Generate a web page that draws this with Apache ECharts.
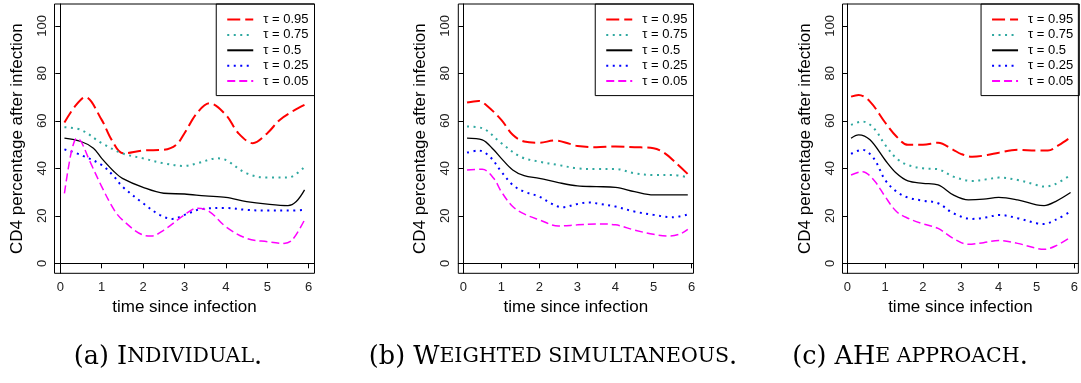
<!DOCTYPE html>
<html><head><meta charset="utf-8">
<script src="https://cdn.jsdelivr.net/npm/echarts@6/dist/echarts.min.js"></script>
<style>html,body{margin:0;padding:0;background:#fff}#c{width:1081px;height:383px}</style>
</head><body><div id="c"></div>
<script>
// ---- data ----
const xTicks = [0, 1, 2, 3, 4, 5, 6];
const yTicks = [0, 20, 40, 60, 80, 100];
const tauLabels = ['τ = 0.95', 'τ = 0.75', 'τ = 0.5', 'τ = 0.25', 'τ = 0.05'];
const xTitle = 'time since infection';
const yTitle = 'CD4 percentage after infection';

// Panel (a) Individual
const a_q95 = [[0.1,59.3],[0.35,66],[0.6,70],[1,60.4],[1.24,52],[1.52,46.3],[2,47.5],[2.5,47.8],[2.8,49.9],[3,54.8],[3.3,63.2],[3.6,67.4],[4,62.5],[4.3,54.8],[4.65,50.6],[5,54.8],[5.3,60.4],[5.6,63.9],[5.9,66.7]];
const a_q75 = [[0.1,57.3],[0.5,56.2],[1,50.6],[1.5,46.3],[2,44.2],[2.5,42.1],[3,41],[3.3,42.1],[3.8,44.2],[4,43.5],[4.5,37.9],[5,36.1],[5.5,36.1],[5.9,40.7]];
const a_q50 = [[0.1,52.7],[0.5,51.3],[0.8,48.5],[1,44.2],[1.3,38.6],[1.5,35.8],[2,32],[2.5,29.5],[3,29.2],[3.5,28.4],[4,27.8],[4.5,26],[5,24.9],[5.5,24.3],[5.7,26],[5.9,30.9]];
const a_q25 = [[0.1,48],[0.5,45.6],[1,41.4],[1.3,36.5],[1.5,32.3],[2,25.3],[2.4,20.4],[2.7,18.7],[3,20.4],[3.4,22.8],[4,23.3],[4.5,22.5],[5,22.2],[5.5,22.2],[5.9,22.5]];
const a_q05 = [[0.1,29.5],[0.2,40.7],[0.3,49.2],[0.4,52.7],[0.5,51.3],[0.7,43.5],[1,32.3],[1.3,22.5],[1.5,18.3],[2,11.9],[2.2,11.5],[2.5,14],[3,20.4],[3.3,23.2],[3.6,21.8],[4,15.4],[4.5,10.5],[5,9.1],[5.4,8.4],[5.6,9.8],[5.9,18.3]];

// Panel (b) Weighted simultaneous
const b_q95 = [[0.1,67.7],[0.4,68.4],[0.6,66.7],[1,60.4],[1.3,54.1],[1.6,51.3],[2,50.8],[2.4,51.7],[2.8,50.3],[3,49.4],[3.5,48.9],[4,49.2],[4.5,48.9],[5,48.5],[5.3,46.3],[5.6,42.1],[5.9,37.6]];
const b_q75 = [[0.1,57.6],[0.5,56.9],[1,50.6],[1.5,44.9],[2,42.8],[2.5,41.4],[3,40],[3.5,39.7],[4,39.7],[4.5,37.9],[5,37.2],[5.5,37.2],[5.9,36.2]];
const b_q50 = [[0.1,52.7],[0.5,52],[0.8,47.8],[1,44.2],[1.3,39.3],[1.6,36.9],[2,35.8],[2.5,34],[3,32.6],[3.5,32.3],[4,32],[4.5,30.2],[5,28.8],[5.5,28.8],[5.9,28.8]];
const b_q25 = [[0.1,46.6],[0.4,47.5],[0.7,44.9],[1,38.6],[1.3,33],[1.6,30.2],[2,28.1],[2.3,25.3],[2.6,23.6],[3,25],[3.3,25.6],[3.6,25],[4,23.9],[4.5,21.8],[5,20.4],[5.5,19.4],[5.9,20.6]];
const b_q05 = [[0.1,39.3],[0.5,39.6],[0.8,35.8],[1,30.2],[1.3,23.9],[1.6,20.8],[2,18.3],[2.5,15.7],[3,16.2],[3.5,16.6],[4,16.2],[4.5,14],[5,12.2],[5.4,11.5],[5.7,12.4],[5.9,14.3]];

// Panel (c) AHe approach
const c_q95 = [[0.1,70.2],[0.3,70.9],[0.6,68.1],[1,59.3],[1.3,53.4],[1.6,49.9],[2,49.9],[2.4,50.8],[2.8,47.8],[3,46.1],[3.3,44.9],[3.7,45.6],[4,46.6],[4.5,47.8],[5,47.5],[5.3,47.5],[5.6,49.9],[5.9,53.1]];
const c_q75 = [[0.1,58.3],[0.4,59.7],[0.7,56.9],[1,49.9],[1.3,44.2],[1.6,41.4],[2,40],[2.4,39.6],[2.8,36.5],[3.3,34.7],[3.7,35.4],[4,36.1],[4.5,35.1],[5,33],[5.2,32.3],[5.5,33.4],[5.9,37.2]];
const c_q50 = [[0.1,52.7],[0.3,54.1],[0.6,52],[1,43.5],[1.3,37.9],[1.6,34.7],[2,33.7],[2.4,33],[2.8,28.8],[3.2,26.7],[3.6,27],[4,27.8],[4.5,26.7],[5,24.6],[5.2,24.3],[5.5,26],[5.9,29.8]];
const c_q25 = [[0.1,46.1],[0.4,47.8],[0.7,44.2],[1,35.1],[1.3,30.2],[1.6,27.7],[2,26.4],[2.4,25.3],[2.8,21.1],[3.3,18.7],[3.7,19.4],[4,20.4],[4.5,19],[5,16.9],[5.2,16.6],[5.5,18.3],[5.9,21.8]];
const c_q05 = [[0.1,37.2],[0.4,38.6],[0.7,35.1],[1,28.1],[1.3,21.8],[1.6,19],[2,16.6],[2.4,14.7],[2.8,10.5],[3.2,8],[3.6,8.7],[4,9.6],[4.5,8.4],[5,6.3],[5.2,5.9],[5.5,7.3],[5.9,11]];

const captions = [
  ['(a) I', 'NDIVIDUAL', '.'],
  ['(b) W', 'EIGHTED SIMULTANEOUS', '.'],
  ['(c) AH', 'E APPROACH', '.']
];

// ---- layout / styles ----
const panelsData = [
  [a_q95, a_q75, a_q50, a_q25, a_q05],
  [b_q95, b_q75, b_q50, b_q25, b_q05],
  [c_q95, c_q75, c_q50, c_q25, c_q05]
];
const layout = [
  {left: 54.5, width: 260, xmin: -0.14, xmax: 6.14, capX: 168},
  {left: 458.3, width: 235.2, xmin: -0.13, xmax: 6.05, capX: 553},
  {left: 842.5, width: 236.8, xmin: -0.126, xmax: 6.105, capX: 910}
];
const gridTop = 4, gridH = 269.3;
const styles = [
  {color: '#FF0000', width: 2, type: [13, 5]},
  {color: '#2FA8A0', width: 2, type: [2, 4.5]},
  {color: '#000000', width: 1.3, type: 'solid'},
  {color: '#0000FF', width: 2, type: [2, 4.5]},
  {color: '#FF00FF', width: 1.5, type: [8, 4]}
];
const sans = 'Liberation Sans, Arial, Helvetica, sans-serif';

const grid = [], xAxis = [], yAxis = [], legend = [], series = [], graphic = [];
layout.forEach((L, i) => {
  grid.push({left: L.left, top: gridTop, width: L.width, height: gridH, show: true, borderColor: '#000', borderWidth: 1, containLabel: false});
  xAxis.push({
    type: 'value', gridIndex: i, min: L.xmin, max: L.xmax,
    name: xTitle, nameLocation: 'middle', nameGap: 24,
    nameTextStyle: {fontFamily: sans, fontSize: 17, color: '#000'},
    axisLine: {show: true, lineStyle: {color: '#000', width: 1}},
    axisTick: {show: true, length: 5, customValues: xTicks, lineStyle: {color: '#000'}},
    axisLabel: {customValues: xTicks, fontFamily: sans, fontSize: 13, color: '#222', margin: 8},
    splitLine: {show: false}
  });
  yAxis.push({
    type: 'value', gridIndex: i, min: -4.2, max: 109.2,
    name: yTitle, nameLocation: 'middle', nameGap: 29, nameRotate: 90,
    nameTextStyle: {fontFamily: sans, fontSize: 17, color: '#000'},
    axisLine: {show: true, lineStyle: {color: '#000', width: 1}},
    axisTick: {show: true, length: 5, customValues: yTicks, lineStyle: {color: '#000'}},
    axisLabel: {customValues: yTicks, rotate: 90, fontFamily: sans, fontSize: 13, color: '#222', margin: 6},
    splitLine: {show: false}
  });
  legend.push({
    orient: 'vertical', right: 1081 - (L.left + L.width), top: gridTop,
    borderColor: '#000', borderWidth: 1, borderRadius: 0,
    padding: [9, 6, 8, 10], itemWidth: 26, itemHeight: 13, itemGap: 2.4,
    selectedMode: false,
    itemStyle: {opacity: 0},
    textStyle: {fontFamily: sans, fontSize: 13, color: '#000', padding: [0, 0, 0, 5]},
    data: tauLabels
  });
  panelsData[i].forEach((d, k) => {
    series.push({
      type: 'line', name: tauLabels[k], xAxisIndex: i, yAxisIndex: i,
      data: d, symbol: 'none', smooth: 0.35, silent: true,
      lineStyle: {color: styles[k].color, width: styles[k].width, type: styles[k].type},
      itemStyle: {color: styles[k].color}
    });
  });
  const cp = captions[i];
  graphic.push({
    type: 'text', x: L.capX, y: 357,
    style: {
      text: '{n|' + cp[0] + '}{s|' + cp[1] + '}{n|' + cp[2] + '}',
      fill: '#000', align: 'center', verticalAlign: 'middle',
      textAlign: 'center', textVerticalAlign: 'middle',
      rich: {
        n: {fontFamily: 'DejaVu Serif', fontSize: 25.5, fill: '#000'},
        s: {fontFamily: 'DejaVu Serif', fontSize: 20.5, fill: '#000'}
      }
    }
  });
});

const chart = echarts.init(document.getElementById('c'), null, {renderer: 'canvas'});
chart.setOption({animation: false, backgroundColor: '#fff', grid, xAxis, yAxis, legend, series, graphic});
</script>
</body></html>
